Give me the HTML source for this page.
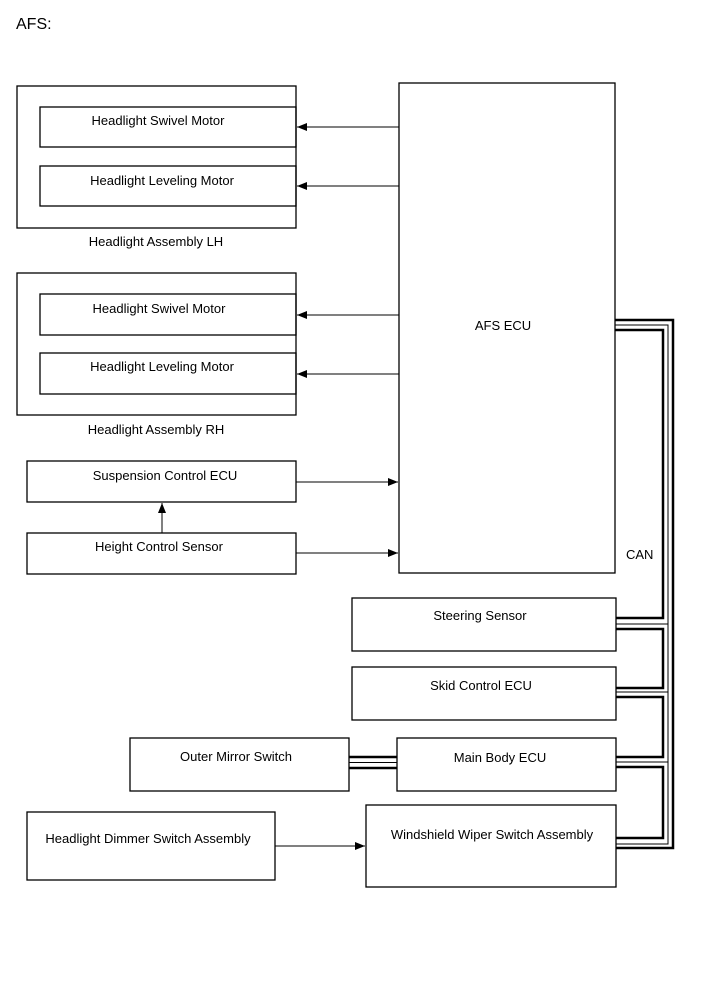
<!DOCTYPE html>
<html><head><style>body{margin:0;background:#fff}svg{display:block}text{font-family:"Liberation Sans",Arial,sans-serif;font-size:13px;fill:#000}</style></head>
<body>
<svg width="713" height="982" viewBox="0 0 713 982" xmlns="http://www.w3.org/2000/svg">
<defs><marker id="a" markerWidth="10" markerHeight="8" refX="10" refY="4" orient="auto" markerUnits="userSpaceOnUse"><path d="M0,0 L10,4 L0,8z" fill="#000"/></marker></defs>
<text x="16" y="29" style="font-size:16px">AFS:</text>
<g fill="none" stroke="#000" stroke-width="1.3">
<rect x="17" y="86" width="279" height="142"/>
<rect x="40" y="107" width="256" height="40"/>
<rect x="40" y="166" width="256" height="40"/>
<rect x="17" y="273" width="279" height="142"/>
<rect x="40" y="294" width="256" height="41"/>
<rect x="40" y="353" width="256" height="41"/>
<rect x="27" y="461" width="269" height="41"/>
<rect x="27" y="533" width="269" height="41"/>
<rect x="399" y="83" width="216" height="490"/>
<rect x="352" y="598" width="264" height="53"/>
<rect x="352" y="667" width="264" height="53"/>
<rect x="397" y="738" width="219" height="53"/>
<rect x="130" y="738" width="219" height="53"/>
<rect x="366" y="805" width="250" height="82"/>
<rect x="27" y="812" width="248" height="68"/>
</g>
<g stroke="#000" stroke-width="1" marker-end="url(#a)">
<line x1="399" y1="127" x2="297" y2="127"/>
<line x1="399" y1="186" x2="297" y2="186"/>
<line x1="399" y1="315" x2="297" y2="315"/>
<line x1="399" y1="374" x2="297" y2="374"/>
<line x1="296" y1="482" x2="398" y2="482"/>
<line x1="296" y1="553" x2="398" y2="553"/>
<line x1="162" y1="533" x2="162" y2="503"/>
<line x1="275" y1="846" x2="365" y2="846"/>
</g>
<g fill="none" stroke="#000">
<path d="M615,320 H673 V848 H616" stroke-width="2.5"/>
<path d="M615,325 H668 V844 H616 M616,624 H668 M616,692 H668 M616,762 H668" stroke-width="1"/>
<path d="M615,330 H663 V618 H616 M616,629 H663 V688 H616 M616,697 H663 V757 H616 M616,767 H663 V838 H616" stroke-width="2.5"/>
<path d="M349,757 H397 M349,768 H397" stroke-width="2.5"/>
<path d="M349,762.5 H397" stroke-width="1"/>
</g>
<text x="158" y="125" text-anchor="middle">Headlight Swivel Motor</text>
<text x="162" y="185" text-anchor="middle">Headlight Leveling Motor</text>
<text x="156" y="246" text-anchor="middle">Headlight Assembly LH</text>
<text x="159" y="313" text-anchor="middle">Headlight Swivel Motor</text>
<text x="162" y="371" text-anchor="middle">Headlight Leveling Motor</text>
<text x="156" y="434" text-anchor="middle">Headlight Assembly RH</text>
<text x="165" y="480" text-anchor="middle">Suspension Control ECU</text>
<text x="159" y="551" text-anchor="middle">Height Control Sensor</text>
<text x="503" y="330" text-anchor="middle">AFS ECU</text>
<text x="626" y="559">CAN</text>
<text x="480" y="620" text-anchor="middle">Steering Sensor</text>
<text x="481" y="690" text-anchor="middle">Skid Control ECU</text>
<text x="500" y="762" text-anchor="middle">Main Body ECU</text>
<text x="236" y="761" text-anchor="middle">Outer Mirror Switch</text>
<text x="492" y="839" text-anchor="middle">Windshield Wiper Switch Assembly</text>
<text x="148" y="843" text-anchor="middle">Headlight Dimmer Switch Assembly</text>
</svg>
</body></html>
